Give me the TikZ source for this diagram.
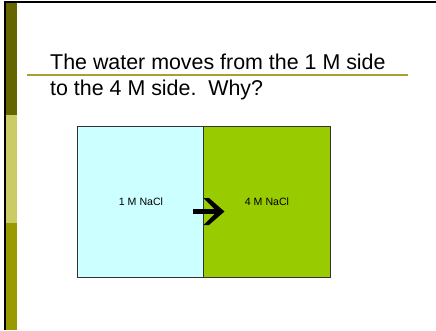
\documentclass[tikz,border=0pt]{standalone}
\usepackage{fontspec}
\setmainfont{Liberation Sans}
\definecolor{bardark}{HTML}{666600}
\definecolor{barlight}{HTML}{CCCC66}
\definecolor{barmid}{HTML}{999900}
\definecolor{rulecol}{HTML}{A8A030}
\definecolor{cyanbox}{HTML}{CCFFFF}
\definecolor{greenbox}{HTML}{99CC00}
\tikzset{
  title/.style={font=\fontsize{21.4}{26}\selectfont, anchor=base west, inner sep=0pt},
  lbl/.style={font=\fontsize{10.6}{12}\selectfont, inner sep=0pt},
  box/.style={draw=black!80, line width=0.8pt}
}
\begin{document}
\begin{tikzpicture}[x=1pt,y=-1pt]
\useasboundingbox (0,0) rectangle (436,330);
\fill[white] (0,0) rectangle (436,330);
% side bar
\fill[bardark] (5.7,2) rectangle (16.7,115);
\fill[barlight] (5.7,115) rectangle (16.7,223);
\fill[barmid] (5.7,223) rectangle (16.7,330);
\fill[black] (4,1) rectangle (5.7,330);
\fill[black] (4,1) rectangle (436,3);
% title
\coordinate (r1) at (27,75);
\coordinate (r2) at (408,75);
\draw[rulecol, line width=1.2pt] (r1) -- (r2);
\node[title] (t1) at (50,69) {The water moves from the 1 M side};
\node[title] (t2) at (50,95.5) {to the 4 M side.\ \ Why?};
% boxes
\node[box, fill=cyanbox, minimum width=126pt, minimum height=151pt, inner sep=0pt] (left) at (140,201.5) {};
\node[box, fill=greenbox, minimum width=127pt, minimum height=151pt, inner sep=0pt] (right) at (266.5,201.5) {};
\node[lbl] (l1) at (141,202) {1 M NaCl};
\node[lbl] (l2) at (267,202) {4 M NaCl};
% arrow
\coordinate (as) at (193,211.5);
\coordinate (ae) at (219,211.5);
\draw[black, line width=5pt] (as) -- (ae);
\fill[black] (203.5,198) -- (209,198) -- (224.5,211.5) -- (209,225) -- (203.5,225) -- (217,211.5) -- cycle;
\end{tikzpicture}
\end{document}
